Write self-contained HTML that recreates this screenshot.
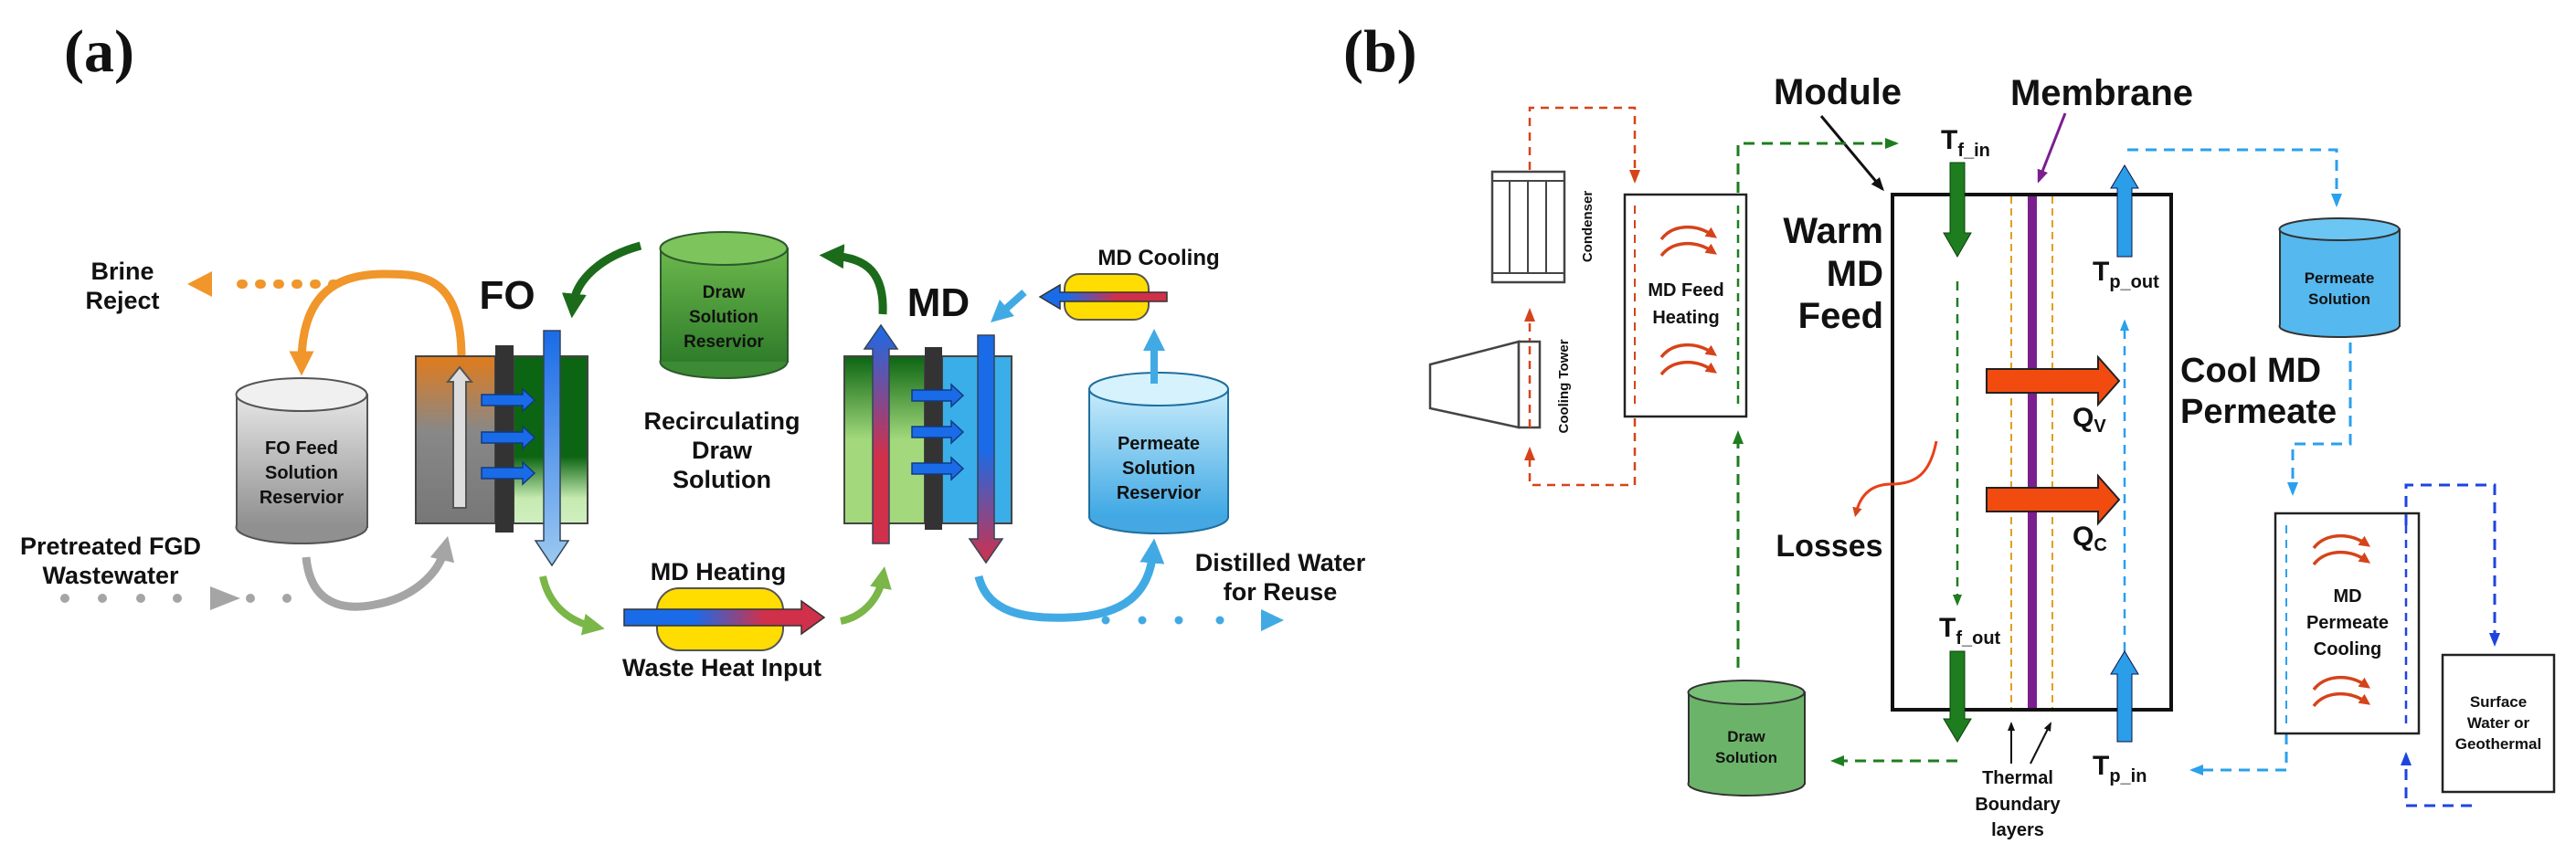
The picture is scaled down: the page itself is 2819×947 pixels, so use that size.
<!DOCTYPE html>
<html><head><meta charset="utf-8"><style>
html,body{margin:0;padding:0;background:#fff;}
svg{display:block;}
text{font-family:"Liberation Sans Narrow","Liberation Sans",sans-serif;font-weight:bold;fill:#111;}
.s{font-family:"Liberation Serif",serif;}
</style></head><body>
<svg width="2819" height="947" viewBox="0 0 2819 947" xmlns="http://www.w3.org/2000/svg">
<defs>
<linearGradient id="gray" x1="0" x2="0" y1="0" y2="1"><stop offset="0" stop-color="#e6e6e6"/><stop offset="1" stop-color="#8f8f8f"/></linearGradient>
<linearGradient id="dgreen" x1="0" x2="0" y1="0" y2="1"><stop offset="0" stop-color="#6cb84d"/><stop offset="1" stop-color="#2f7d2a"/></linearGradient>
<linearGradient id="lblue" x1="0" x2="0" y1="0" y2="1"><stop offset="0" stop-color="#c8ecfb"/><stop offset="1" stop-color="#3fa8e4"/></linearGradient>
<linearGradient id="foL" x1="0" x2="0" y1="0" y2="1"><stop offset="0" stop-color="#e07b1c"/><stop offset="0.45" stop-color="#888"/><stop offset="1" stop-color="#777"/></linearGradient>
<linearGradient id="foR" x1="0" x2="0" y1="0" y2="1"><stop offset="0" stop-color="#0c6512"/><stop offset="0.6" stop-color="#0c6512"/><stop offset="0.85" stop-color="#c5eab0"/><stop offset="1" stop-color="#d0f0c0"/></linearGradient>
<linearGradient id="mdL" x1="0" x2="0" y1="0" y2="1"><stop offset="0" stop-color="#0c6512"/><stop offset="0.5" stop-color="#a3d97c"/><stop offset="1" stop-color="#a3d97c"/></linearGradient>
<linearGradient id="bdown" x1="0" x2="0" y1="0" y2="1"><stop offset="0" stop-color="#1a6be8"/><stop offset="1" stop-color="#9cc9f0"/></linearGradient>
<linearGradient id="rb" x1="0" x2="0" y1="0" y2="1"><stop offset="0" stop-color="#1a6be8"/><stop offset="0.6" stop-color="#d0304a"/><stop offset="1" stop-color="#d0304a"/></linearGradient>
<linearGradient id="br" x1="0" x2="0" y1="0" y2="1"><stop offset="0" stop-color="#1a6be8"/><stop offset="0.5" stop-color="#1a6be8"/><stop offset="1" stop-color="#d0304a"/></linearGradient>
<linearGradient id="hx" x1="0" x2="1" y1="0" y2="0"><stop offset="0" stop-color="#1a6be8"/><stop offset="0.35" stop-color="#1a6be8"/><stop offset="0.7" stop-color="#d0304a"/><stop offset="1" stop-color="#d0304a"/></linearGradient>
<linearGradient id="hxl" x1="1" x2="0" y1="0" y2="0"><stop offset="0" stop-color="#d0304a"/><stop offset="0.4" stop-color="#d0304a"/><stop offset="0.8" stop-color="#1a6be8"/><stop offset="1" stop-color="#1a6be8"/></linearGradient>
<marker id="mOr" viewBox="0 0 10 10" refX="5" refY="5" markerWidth="3" markerHeight="3" orient="auto"><path d="M0,0L10,5L0,10z" fill="#f0962a"/></marker>
<marker id="mDg" viewBox="0 0 10 10" refX="5" refY="5" markerWidth="3" markerHeight="3" orient="auto"><path d="M0,0L10,5L0,10z" fill="#1b6b1b"/></marker>
<marker id="mLg" viewBox="0 0 10 10" refX="5" refY="5" markerWidth="3" markerHeight="3" orient="auto"><path d="M0,0L10,5L0,10z" fill="#7ab648"/></marker>
<marker id="mGr" viewBox="0 0 10 10" refX="5" refY="5" markerWidth="3" markerHeight="3" orient="auto"><path d="M0,0L10,5L0,10z" fill="#a5a5a5"/></marker>
<marker id="mBl" viewBox="0 0 10 10" refX="5" refY="5" markerWidth="3" markerHeight="3" orient="auto"><path d="M0,0L10,5L0,10z" fill="#41aae4"/></marker>
<marker id="dR" viewBox="0 0 10 10" refX="8" refY="5" markerWidth="6" markerHeight="6" orient="auto"><path d="M0,1L10,5L0,9z" fill="#d6431a"/></marker>
<marker id="dG" viewBox="0 0 10 10" refX="8" refY="5" markerWidth="5" markerHeight="5" orient="auto"><path d="M0,1L10,5L0,9z" fill="#1e7d1e"/></marker>
<marker id="dB" viewBox="0 0 10 10" refX="8" refY="5" markerWidth="5" markerHeight="5" orient="auto"><path d="M0,1L10,5L0,9z" fill="#2aa0ee"/></marker>
<marker id="dN" viewBox="0 0 10 10" refX="8" refY="5" markerWidth="5" markerHeight="5" orient="auto"><path d="M0,1L10,5L0,9z" fill="#1e44e0"/></marker>
<marker id="dK" viewBox="0 0 10 10" refX="8" refY="5" markerWidth="5" markerHeight="5" orient="auto"><path d="M0,1L10,5L0,9z" fill="#111"/></marker>
<marker id="dP" viewBox="0 0 10 10" refX="8" refY="5" markerWidth="5" markerHeight="5" orient="auto"><path d="M0,1L10,5L0,9z" fill="#7b1f8f"/></marker>
<marker id="cR" viewBox="0 0 10 10" refX="6" refY="5" markerWidth="3.5" markerHeight="3.5" orient="auto"><path d="M0,0L10,5L0,10z" fill="#d6431a"/></marker>
</defs>

<!-- ===== Panel (a) ===== -->
<text class="s" x="70" y="78" font-size="66">(a)</text>

<text x="134" y="306" font-size="27" text-anchor="middle">Brine</text>
<text x="134" y="338" font-size="27" text-anchor="middle">Reject</text>
<!-- orange -->
<path d="M505,392 C505,300 460,300 420,300 C370,300 330,320 330,398" fill="none" stroke="#f0962a" stroke-width="9" marker-end="url(#mOr)"/>
<path d="M366,311 L250,311" fill="none" stroke="#f0962a" stroke-width="10" stroke-dasharray="2 18" stroke-linecap="round"/>
<path d="M205,311 L232,297 L232,325z" fill="#f0962a"/>

<!-- FO feed cylinder -->
<rect x="259" y="432" width="143" height="145" fill="url(#gray)" stroke="#555" stroke-width="2"/>
<ellipse cx="330" cy="577" rx="71.5" ry="18" fill="#909090" stroke="#555" stroke-width="2"/>
<rect x="260" y="432" width="141" height="145" fill="url(#gray)"/>
<ellipse cx="330" cy="432" rx="71.5" ry="18" fill="#f0f0f0" stroke="#555" stroke-width="2"/>
<text x="330" y="497" font-size="20" text-anchor="middle" fill="#333">FO Feed</text>
<text x="330" y="524" font-size="20" text-anchor="middle" fill="#333">Solution</text>
<text x="330" y="551" font-size="20" text-anchor="middle" fill="#333">Reservior</text>

<!-- FO module -->
<rect x="455" y="390" width="87" height="183" fill="url(#foL)" stroke="#444" stroke-width="2"/>
<rect x="562" y="390" width="81" height="183" fill="url(#foR)" stroke="#444" stroke-width="2"/>
<rect x="542" y="378" width="20" height="205" fill="#333"/>
<path d="M496,556 L496,418 L490,418 L503,402 L516,418 L510,418 L510,556z" fill="#ddd" stroke="#555" stroke-width="2"/>
<g fill="#1a6be8" stroke="#123a80" stroke-width="1.5">
<path d="M527,432 L572,432 L572,426 L585,438 L572,450 L572,444 L527,444z"/>
<path d="M527,473 L572,473 L572,467 L585,479 L572,491 L572,485 L527,485z"/>
<path d="M527,512 L572,512 L572,506 L585,518 L572,530 L572,524 L527,524z"/>
</g>
<path d="M595,362 L613,362 L613,592 L622,592 L604,619 L586,592 L595,592z" fill="url(#bdown)" stroke="#345" stroke-width="1.5"/>
<text x="555" y="338" font-size="44" text-anchor="middle">FO</text>

<!-- Draw cylinder -->
<rect x="723" y="272" width="139" height="124" fill="url(#dgreen)" stroke="#2c5a2c" stroke-width="2"/>
<ellipse cx="792" cy="396" rx="69.5" ry="18" fill="#3c8a33" stroke="#2c5a2c" stroke-width="2"/>
<rect x="724" y="272" width="137" height="124" fill="url(#dgreen)"/>
<ellipse cx="792" cy="272" rx="69.5" ry="18" fill="#7dc45c" stroke="#2c5a2c" stroke-width="2"/>
<text x="792" y="326" font-size="19" text-anchor="middle" fill="#1a2a1a">Draw</text>
<text x="792" y="353" font-size="19" text-anchor="middle" fill="#1a2a1a">Solution</text>
<text x="792" y="380" font-size="19" text-anchor="middle" fill="#1a2a1a">Reservior</text>
<!-- dark green arrows -->
<path d="M701,269 C660,280 630,305 627,335" fill="none" stroke="#1b6b1b" stroke-width="9" marker-end="url(#mDg)"/>
<path d="M966,344 C968,300 950,282 910,280" fill="none" stroke="#1b6b1b" stroke-width="9" marker-end="url(#mDg)"/>

<text x="790" y="470" font-size="27" text-anchor="middle">Recirculating</text>
<text x="790" y="502" font-size="27" text-anchor="middle">Draw</text>
<text x="790" y="534" font-size="27" text-anchor="middle">Solution</text>

<!-- MD module -->
<rect x="924" y="390" width="88" height="183" fill="url(#mdL)" stroke="#444" stroke-width="2"/>
<rect x="1031" y="390" width="76" height="183" fill="#3aaee8" stroke="#444" stroke-width="2"/>
<rect x="1012" y="380" width="19" height="200" fill="#333"/>
<path d="M955,595 L973,595 L973,382 L982,382 L964,356 L946,382 L955,382z" fill="url(#rb)" stroke="#345" stroke-width="1.5"/>
<g fill="#1a6be8" stroke="#123a80" stroke-width="1.5">
<path d="M998,427 L1041,427 L1041,421 L1054,433 L1041,445 L1041,439 L998,439z"/>
<path d="M998,467 L1041,467 L1041,461 L1054,473 L1041,485 L1041,479 L998,479z"/>
<path d="M998,507 L1041,507 L1041,501 L1054,513 L1041,525 L1041,519 L998,519z"/>
</g>
<path d="M1070,367 L1088,367 L1088,590 L1097,590 L1079,616 L1061,590 L1070,590z" fill="url(#br)" stroke="#345" stroke-width="1.5"/>
<text x="1027" y="346" font-size="44" text-anchor="middle">MD</text>

<!-- MD cooling -->
<text x="1268" y="290" font-size="24" text-anchor="middle">MD Cooling</text>
<rect x="1165" y="300" width="92" height="50" rx="16" fill="#ffdd00" stroke="#555" stroke-width="2"/>
<path d="M1277,320 L1160,320 L1160,312 L1138,325 L1160,338 L1160,330 L1277,330z" fill="url(#hxl)" stroke="#333" stroke-width="1.5"/>
<path d="M1121,320 L1093,345" fill="none" stroke="#41aae4" stroke-width="8" marker-end="url(#mBl)"/>

<!-- permeate reservoir -->
<rect x="1192" y="426" width="152" height="140" fill="url(#lblue)" stroke="#1f6f9f" stroke-width="2"/>
<ellipse cx="1268" cy="566" rx="76" ry="18" fill="#45a8e2" stroke="#1f6f9f" stroke-width="2"/>
<rect x="1193" y="426" width="150" height="140" fill="url(#lblue)"/>
<ellipse cx="1268" cy="426" rx="76" ry="18" fill="#d6f2fd" stroke="#1f6f9f" stroke-width="2"/>
<text x="1268" y="492" font-size="20" text-anchor="middle" fill="#223">Permeate</text>
<text x="1268" y="519" font-size="20" text-anchor="middle" fill="#223">Solution</text>
<text x="1268" y="546" font-size="20" text-anchor="middle" fill="#223">Reservior</text>
<path d="M1263,420 L1263,372" fill="none" stroke="#41aae4" stroke-width="8" marker-end="url(#mBl)"/>

<!-- pretreated -->
<text x="121" y="607" font-size="27" text-anchor="middle">Pretreated FGD</text>
<text x="121" y="639" font-size="27" text-anchor="middle">Wastewater</text>
<g fill="#a5a5a5"><circle cx="71" cy="655" r="5"/><circle cx="112" cy="655" r="5"/><circle cx="154" cy="655" r="5"/><circle cx="194" cy="655" r="5"/><path d="M230,642 L263,655 L230,668z"/><circle cx="274" cy="655" r="5"/><circle cx="314" cy="655" r="5"/></g>
<path d="M335,610 C340,665 380,668 410,662 C450,655 480,630 487,600" fill="none" stroke="#a5a5a5" stroke-width="9" marker-end="url(#mGr)"/>

<!-- MD heating -->
<path d="M594,631 C600,660 620,680 650,686" fill="none" stroke="#7ab648" stroke-width="8" marker-end="url(#mLg)"/>
<text x="786" y="635" font-size="27" text-anchor="middle">MD Heating</text>
<rect x="719" y="644" width="138" height="68" rx="24" fill="#ffdd00" stroke="#555" stroke-width="2"/>
<path d="M683,667 L877,667 L877,658 L902,676 L877,694 L877,685 L683,685z" fill="url(#hx)" stroke="#333" stroke-width="1.5"/>
<text x="790" y="740" font-size="27" text-anchor="middle">Waste Heat Input</text>
<path d="M920,680 C945,675 962,655 966,632" fill="none" stroke="#7ab648" stroke-width="8" marker-end="url(#mLg)"/>

<!-- distilled -->
<path d="M1071,631 C1080,670 1120,678 1170,676 C1230,674 1258,650 1262,603" fill="none" stroke="#41aae4" stroke-width="9" marker-end="url(#mBl)"/>
<g fill="#41aae4"><circle cx="1210" cy="679" r="4.5"/><circle cx="1250" cy="679" r="4.5"/><circle cx="1290" cy="679" r="4.5"/><circle cx="1335" cy="679" r="4.5"/><path d="M1380,667 L1405,679 L1380,691z"/></g>
<text x="1401" y="625" font-size="27" text-anchor="middle">Distilled Water</text>
<text x="1401" y="657" font-size="27" text-anchor="middle">for Reuse</text>

<!-- ===== Panel (b) ===== -->
<text class="s" x="1470" y="78" font-size="66">(b)</text>
<text x="2011" y="114" font-size="40" text-anchor="middle">Module</text>
<text x="2300" y="115" font-size="40" text-anchor="middle" fill="#7b1f8f">Membrane</text>
<path d="M1993,127 L2060,207" stroke="#111" stroke-width="3" fill="none" marker-end="url(#dK)"/>
<path d="M2260,124 L2231,198" stroke="#7b1f8f" stroke-width="3" fill="none" marker-end="url(#dP)"/>

<!-- red dashed loop -->
<g fill="none" stroke="#d6431a" stroke-width="2.5" stroke-dasharray="9 7">
<path d="M1674,186 L1674,118 L1789,118 L1789,198" marker-end="url(#dR)"/>
<path d="M1789,458 L1789,531 L1674,531 L1674,492" marker-end="url(#dR)"/>
<path d="M1674,395 L1674,340" marker-end="url(#dR)"/>
</g>
<!-- condenser -->
<rect x="1633" y="188" width="79" height="121" fill="#fff" stroke="#444" stroke-width="2.5"/>
<path d="M1633,198 L1712,198 M1633,299 L1712,299 M1652,198 L1652,299 M1672,198 L1672,299 M1692,198 L1692,299" stroke="#444" stroke-width="2"/>
<text transform="translate(1742,248) rotate(-90)" font-size="15" text-anchor="middle" fill="#333">Condenser</text>
<!-- cooling tower -->
<path d="M1565,399 L1662,374 L1662,468 L1565,447z" fill="#fff" stroke="#444" stroke-width="2.5"/>
<rect x="1662" y="374" width="23" height="94" fill="#fff" stroke="#444" stroke-width="2.5"/>
<text transform="translate(1716,423) rotate(-90)" font-size="15" text-anchor="middle" fill="#333">Cooling Tower</text>
<path d="M1674,468 L1674,374" stroke="#d6431a" stroke-width="2.5" stroke-dasharray="9 7" fill="none"/>

<!-- MD feed heating -->
<rect x="1778" y="213" width="133" height="243" fill="#fff" stroke="#222" stroke-width="2.5"/>
<path d="M1789,225 L1789,445" stroke="#d6431a" stroke-width="2" stroke-dasharray="9 7"/>
<path d="M1902,225 L1902,445" stroke="#1e7d1e" stroke-width="2.5" stroke-dasharray="9 7"/>
<text x="1845" y="324" font-size="20" text-anchor="middle">MD Feed</text>
<text x="1845" y="354" font-size="20" text-anchor="middle">Heating</text>
<g fill="none" stroke="#d6431a" stroke-width="3.5">
<path d="M1818,262 C1830,246 1855,244 1875,258" marker-end="url(#cR)"/>
<path d="M1818,280 C1830,264 1855,262 1875,276" marker-end="url(#cR)"/>
<path d="M1818,391 C1830,375 1855,373 1875,387" marker-end="url(#cR)"/>
<path d="M1818,410 C1830,394 1855,392 1875,406" marker-end="url(#cR)"/>
</g>
<g fill="none" stroke="#1e7d1e" stroke-width="3" stroke-dasharray="12 8">
<path d="M1902,211 L1902,157 L2075,157" marker-end="url(#dG)"/>
<path d="M1902,731 L1902,474" marker-end="url(#dG)"/>
<path d="M2142,833 L2006,833" marker-end="url(#dG)"/>
</g>

<!-- module box -->
<rect x="2071" y="213" width="305" height="564" fill="#fff" stroke="#111" stroke-width="4"/>
<path d="M2201,215 L2201,775 M2246,215 L2246,775" stroke="#e0a020" stroke-width="2" stroke-dasharray="8 5"/>
<rect x="2219" y="215" width="10" height="560" fill="#7b1f8f"/>
<text x="2061" y="266" font-size="40" text-anchor="end">Warm</text>
<text x="2061" y="313" font-size="40" text-anchor="end">MD</text>
<text x="2061" y="359" font-size="40" text-anchor="end">Feed</text>
<text x="2386" y="418" font-size="38">Cool MD</text>
<text x="2386" y="463" font-size="38">Permeate</text>

<text x="2124" y="163" font-size="30">T<tspan font-size="20" dy="8">f_in</tspan></text>
<path d="M2134,178 L2150,178 L2150,255 L2157,255 L2142,281 L2127,255 L2134,255z" fill="#1e7d1e" stroke="#0f3f0f" stroke-width="1"/>
<path d="M2142,308 L2142,661" stroke="#1e7d1e" stroke-width="2.5" stroke-dasharray="10 8" fill="none" marker-end="url(#dG)"/>
<text x="2122" y="697" font-size="30">T<tspan font-size="20" dy="8">f_out</tspan></text>
<path d="M2134,713 L2150,713 L2150,787 L2157,787 L2142,812 L2127,787 L2134,787z" fill="#1e7d1e" stroke="#0f3f0f" stroke-width="1"/>

<text x="2290" y="307" font-size="30">T<tspan font-size="20" dy="8">p_out</tspan></text>
<path d="M2317,281 L2333,281 L2333,206 L2340,206 L2325,181 L2310,206 L2317,206z" fill="#2a9ee8" stroke="#114" stroke-width="1"/>
<path d="M2325,713 L2325,352" stroke="#2aa0ee" stroke-width="2.5" stroke-dasharray="10 8" fill="none" marker-end="url(#dB)"/>
<text x="2290" y="848" font-size="30">T<tspan font-size="20" dy="8">p_in</tspan></text>
<path d="M2317,812 L2333,812 L2333,738 L2340,738 L2325,713 L2310,738 L2317,738z" fill="#2a9ee8" stroke="#114" stroke-width="1"/>

<!-- Q arrows -->
<path d="M2174,404 L2296,404 L2296,391 L2319,417 L2296,443 L2296,430 L2174,430z" fill="#f24b10" stroke="#222" stroke-width="2"/>
<path d="M2174,534 L2296,534 L2296,521 L2319,547 L2296,573 L2296,560 L2174,560z" fill="#f24b10" stroke="#222" stroke-width="2"/>
<text x="2268" y="467" font-size="30">Q<tspan font-size="20" dy="6">V</tspan></text>
<text x="2268" y="597" font-size="30">Q<tspan font-size="20" dy="6">C</tspan></text>
<path d="M2119,483 C2112,520 2095,530 2070,530 C2045,530 2035,545 2031,562" fill="none" stroke="#e8401a" stroke-width="3" marker-end="url(#cR)"/>
<text x="2002" y="609" font-size="34" text-anchor="middle">Losses</text>

<!-- thermal boundary -->
<path d="M2201,836 L2201,792" stroke="#111" stroke-width="2" fill="none" marker-end="url(#dK)"/>
<path d="M2222,836 L2244,792" stroke="#111" stroke-width="2" fill="none" marker-end="url(#dK)"/>
<text x="2208" y="858" font-size="20" text-anchor="middle">Thermal</text>
<text x="2208" y="887" font-size="20" text-anchor="middle">Boundary</text>
<text x="2208" y="915" font-size="20" text-anchor="middle">layers</text>

<!-- draw solution -->
<rect x="1848" y="758" width="127" height="100" fill="#6cb36a" stroke="#333" stroke-width="2"/>
<ellipse cx="1911" cy="858" rx="63.5" ry="13" fill="#6cb36a" stroke="#333" stroke-width="2"/>
<rect x="1849" y="758" width="125" height="100" fill="#6cb36a"/>
<ellipse cx="1911" cy="758" rx="63.5" ry="13" fill="#78c076" stroke="#333" stroke-width="2"/>
<text x="1911" y="812" font-size="17" text-anchor="middle" fill="#1a2a1a">Draw</text>
<text x="1911" y="835" font-size="17" text-anchor="middle" fill="#1a2a1a">Solution</text>

<!-- permeate solution -->
<g fill="none" stroke="#2aa0ee" stroke-width="3" stroke-dasharray="12 8">
<path d="M2328,164 L2557,164 L2557,224" marker-end="url(#dB)"/>
<path d="M2572,375 L2572,486 L2509,486 L2509,540" marker-end="url(#dB)"/>
<path d="M2502,803 L2502,843 L2399,843" marker-end="url(#dB)"/>
</g>
<rect x="2495" y="251" width="131" height="106" fill="#55b8ee" stroke="#333" stroke-width="2"/>
<ellipse cx="2560" cy="357" rx="65.5" ry="12" fill="#55b8ee" stroke="#333" stroke-width="2"/>
<rect x="2496" y="251" width="129" height="106" fill="#55b8ee"/>
<ellipse cx="2560" cy="251" rx="65.5" ry="12" fill="#6cc6f4" stroke="#333" stroke-width="2"/>
<text x="2560" y="310" font-size="17" text-anchor="middle" fill="#1a2a3a">Permeate</text>
<text x="2560" y="333" font-size="17" text-anchor="middle" fill="#1a2a3a">Solution</text>

<!-- MD permeate cooling -->
<rect x="2490" y="562" width="157" height="241" fill="#fff" stroke="#222" stroke-width="2.5"/>
<path d="M2502,575 L2502,792" stroke="#2aa0ee" stroke-width="2" stroke-dasharray="9 7"/>
<path d="M2633,575 L2633,792" stroke="#1e44e0" stroke-width="2.5" stroke-dasharray="9 7"/>
<text x="2569" y="659" font-size="20" text-anchor="middle">MD</text>
<text x="2569" y="688" font-size="20" text-anchor="middle">Permeate</text>
<text x="2569" y="717" font-size="20" text-anchor="middle">Cooling</text>
<g fill="none" stroke="#d6431a" stroke-width="3.5">
<path d="M2532,600 C2544,584 2570,582 2590,596" marker-end="url(#cR)"/>
<path d="M2532,618 C2544,602 2570,600 2590,614" marker-end="url(#cR)"/>
<path d="M2532,755 C2544,739 2570,737 2590,751" marker-end="url(#cR)"/>
<path d="M2532,773 C2544,757 2570,755 2590,769" marker-end="url(#cR)"/>
</g>
<g fill="none" stroke="#1e44e0" stroke-width="3" stroke-dasharray="12 8">
<path d="M2633,575 L2633,531 L2730,531 L2730,705" marker-end="url(#dN)"/>
<path d="M2705,882 L2633,882 L2633,826" marker-end="url(#dN)"/>
</g>
<rect x="2673" y="717" width="122" height="150" fill="#fff" stroke="#222" stroke-width="2.5"/>
<text x="2734" y="774" font-size="17" text-anchor="middle">Surface</text>
<text x="2734" y="797" font-size="17" text-anchor="middle">Water or</text>
<text x="2734" y="820" font-size="17" text-anchor="middle">Geothermal</text>
</svg>
</body></html>
